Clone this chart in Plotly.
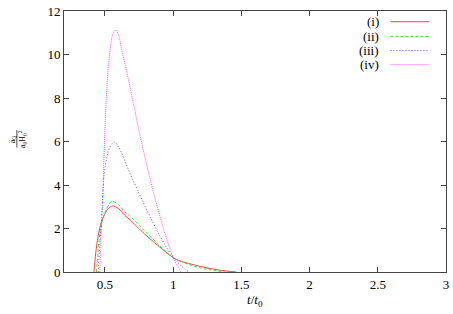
import plotly.graph_objects as go

# ---- data ----
t_i = [0.42, 0.43, 0.445, 0.469, 0.498, 0.525, 0.557, 0.60, 0.644, 0.68, 0.789, 0.886, 1.0, 1.044, 1.19, 1.335, 1.46]
v_i = [0.0, 0.71, 1.46, 2.2, 2.65, 2.92, 3.04, 2.92, 2.62, 2.42, 1.76, 1.23, 0.66, 0.52, 0.27, 0.09, 0.0]

t_ii = [0.438, 0.457, 0.474, 0.505, 0.53, 0.554, 0.60, 0.644, 0.68, 0.789, 0.886, 1.0, 1.19, 1.38]
v_ii = [0.0, 1.46, 2.2, 2.8, 3.12, 3.25, 3.1, 2.77, 2.6, 1.9, 1.31, 0.66, 0.2, 0.0]

t_iii = [0.45, 0.462, 0.474, 0.493, 0.522, 0.548, 0.571, 0.60, 0.624, 0.656, 0.70, 0.74, 0.777, 0.83, 0.886, 0.94, 1.0, 1.06, 1.115]
v_iii = [0.0, 1.2, 2.2, 4.4, 5.49, 5.88, 5.97, 5.75, 5.45, 4.95, 4.3, 3.75, 3.25, 2.55, 1.85, 1.25, 0.66, 0.28, 0.0]

t_iv = [0.462, 0.474, 0.486, 0.496, 0.508, 0.522, 0.54, 0.556, 0.578, 0.60, 0.624, 0.66, 0.707, 0.76, 0.85, 0.934, 1.0, 1.056]
v_iv = [0.0, 2.0, 3.7, 5.94, 7.73, 9.22, 10.3, 10.9, 11.13, 10.9, 10.2, 9.22, 7.8, 6.2, 3.8, 1.9, 0.66, 0.0]

labels = ["(i)", "(ii)", "(iii)", "(iv)"]
colors = ["#ff4040", "#30e030", "#5050ff", "#ff50ff"]
dashes = ["solid", "3px,2px", "1px,2px", "1px,1px"]

xticks = [0.5, 1, 1.5, 2, 2.5, 3]
yticks = [0, 2, 4, 6, 8, 10, 12]

series = [(t_i, v_i), (t_ii, v_ii), (t_iii, v_iii), (t_iv, v_iv)]

FONT = "Liberation Serif"
L, R, T, B = 64, 449, 5, 272.5
PW, PH = R - L, B - T


def px(x):
    return (x - L) / PW


def py(y):
    return 1 - (y - T) / PH


fig = go.Figure()
for (tx, vy), lab, c, d in zip(series, labels, colors, dashes):
    fig.add_trace(go.Scatter(x=tx, y=vy, mode="lines", name=lab,
                             line=dict(color=c, width=1, dash=d, shape="spline", smoothing=0.8),
                             showlegend=False, hoverinfo="skip"))

# gnuplot-style legend: text then line sample on the right
row_y = [16, 31, 45.5, 60]
for lab, c, d, yy in zip(labels, colors, dashes, row_y):
    fig.add_annotation(xref="paper", yref="paper", x=px(383), y=py(yy),
                       text=lab, showarrow=False, xanchor="right", yanchor="middle",
                       font=dict(family=FONT, size=13, color="black"))
    fig.add_shape(type="line", xref="paper", yref="paper",
                  x0=px(393), x1=px(432), y0=py(yy), y1=py(yy),
                  line=dict(color=c, width=1, dash=d))

axis_common = dict(showgrid=False, zeroline=False, showline=True, mirror="ticks",
                   linecolor="#444444", linewidth=1, ticks="inside", ticklen=5,
                   tickcolor="#444444", ticklabeloverflow="allow",
                   tickfont=dict(family=FONT, size=13, color="black"))

fig.update_xaxes(range=[0.2, 3], tickvals=xticks, ticktext=[str(v) for v in xticks], **axis_common)
fig.update_yaxes(range=[0, 12], tickvals=yticks, ticktext=[str(v) for v in yticks], **axis_common)

fig.add_annotation(xref="paper", yref="paper", x=px(257), y=py(302), yanchor="middle",
                   text="<i>t</i>/<i>t</i><sub>0</sub>", showarrow=False,
                   font=dict(family=FONT, size=13, color="black"))
# y-axis label as a rotated fraction
fig.add_annotation(xref="paper", yref="paper", x=px(12), y=py(136), textangle=-90,
                   xanchor="center", yanchor="middle",
                   text="ä<sub>Q</sub>", showarrow=False,
                   font=dict(family=FONT, size=8, color="black"))
fig.add_annotation(xref="paper", yref="paper", x=px(22), y=py(136), textangle=-90,
                   xanchor="center", yanchor="middle",
                   text="a<sub>0</sub>H<sub>0</sub><sup>2</sup>", showarrow=False,
                   font=dict(family=FONT, size=8, color="black"))
fig.add_shape(type="line", xref="paper", yref="paper",
              x0=px(16.5), x1=px(16.5), y0=py(127), y1=py(145),
              line=dict(color="black", width=0.7))

fig.update_layout(width=453, height=314, margin=dict(l=L, r=453 - R, t=T, b=314 - B),
                  paper_bgcolor="white", plot_bgcolor="white", showlegend=False,
                  hovermode=False)

fig.write_html("out.html", config={"displayModeBar": False},
               post_script="document.body.style.margin='0';document.body.style.overflow='hidden';")
